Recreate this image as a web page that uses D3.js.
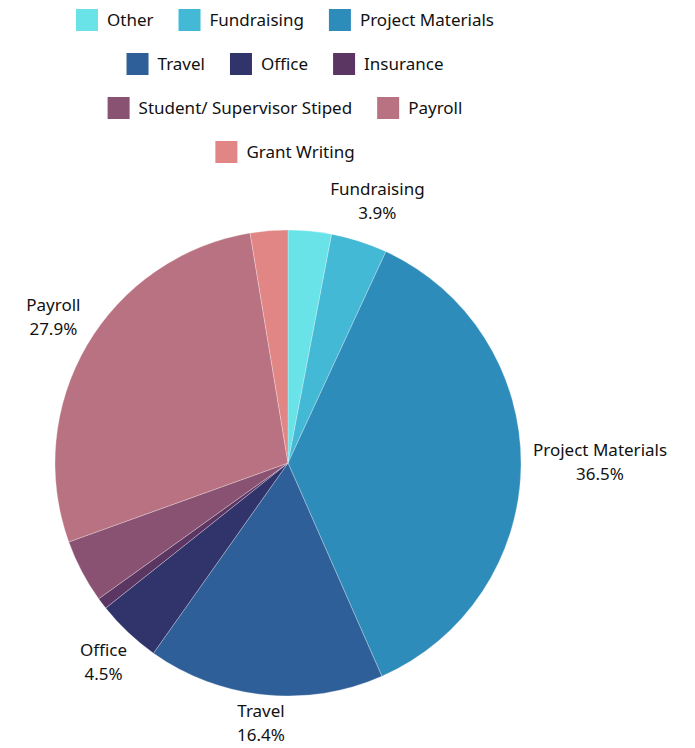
<!DOCTYPE html>
<html>
<head>
<meta charset="utf-8">
<script src="https://cdn.jsdelivr.net/npm/d3@7"></script>
<style>
  body { margin: 0; background: #fff; }
  text { font-family: "Noto Sans", sans-serif; fill: #111; }
</style>
</head>
<body>
<svg width="695" height="748"></svg>
<script>
const categories = ['Other', 'Fundraising', 'Project Materials', 'Travel', 'Office', 'Insurance',
  'Student/ Supervisor Stiped', 'Payroll', 'Grant Writing'];
const values = [3.0, 3.9, 36.5, 16.4, 4.5, 0.8, 4.4, 27.9, 2.6];
const colors = ['#69e3e8', '#44b9d6', '#2e8cba', '#2e5f98', '#30346b', '#5c3663', '#8a5272', '#b97282', '#e28585'];
const labelled = ['Fundraising', 'Project Materials', 'Travel', 'Office', 'Payroll'];

const svg = d3.select('svg');
const height = +svg.attr('height');

const data = categories.map((c, i) => ({ name: c, value: values[i] }));
const color = d3.scaleOrdinal().domain(categories).range(colors);

const cx = 288, cy = 463, radius = 233;
const fontSize = 17;

// legend, rows centred over the pie
const legend = svg.append('g');
const sw = 22, gap = 9, itemGap = 25, maxRow = 480, rowH = 44, legendTop = 20, legendMid = 285;
const items = legend.selectAll('g').data(data).enter().append('g');
items.append('rect').attr('width', sw).attr('height', sw).attr('y', -sw / 2)
  .attr('fill', d => color(d.name));
items.append('text').attr('x', sw + gap).attr('dy', '0.35em')
  .style('font-size', fontSize + 'px').text(d => d.name);
const rows = [];
let row = [], rowW = 0;
items.each(function (d) {
  const w = sw + gap + this.querySelector('text').getComputedTextLength();
  const add = row.length ? itemGap + w : w;
  if (row.length && rowW + add > maxRow) { rows.push({ row, rowW }); row = []; rowW = 0; }
  row.push({ node: this, w });
  rowW += row.length > 1 ? itemGap + w : w;
});
rows.push({ row, rowW });
rows.forEach((r, ri) => {
  let x = legendMid - r.rowW / 2;
  r.row.forEach(it => {
    d3.select(it.node).attr('transform', `translate(${x},${legendTop + ri * rowH})`);
    x += it.w + itemGap;
  });
});

// pie
const pie = d3.pie().value(d => d.value).sort(null);
const arc = d3.arc().innerRadius(0).outerRadius(radius);
const g = svg.append('g').attr('transform', `translate(${cx},${cy})`);
const arcs = pie(data);
g.selectAll('path').data(arcs).enter().append('path')
  .attr('d', arc)
  .attr('fill', d => color(d.data.name))
  .attr('stroke', 'rgba(255,255,255,0.35)')
  .attr('stroke-width', 0.8);

// outside labels
const lab = g.selectAll('g.lab').data(arcs.filter(d => labelled.includes(d.data.name)))
  .enter().append('g').attr('class', 'lab');
lab.each(function (d) {
  const a = (d.startAngle + d.endAngle) / 2;
  const r = radius + 12;
  const px = r * Math.sin(a), py = -r * Math.cos(a);
  const sel = d3.select(this);
  const t1 = sel.append('text').attr('text-anchor', 'middle').style('font-size', fontSize + 'px')
    .text(d.data.name);
  const t2 = sel.append('text').attr('text-anchor', 'middle').style('font-size', fontSize + 'px')
    .text(d3.format('.1f')(d.data.value) + '%');
  const w = Math.max(t1.node().getComputedTextLength(), t2.node().getComputedTextLength());
  const h = 50;
  const sy = Math.max(-1, Math.min(1, -Math.cos(a) * 1.4));
  const bx = px + Math.sin(a) * w / 2;
  // keep the second line inside the bottom edge
  const by = Math.min(py + sy * h / 2 - 4, height - cy - 25);
  t1.attr('x', bx).attr('y', by - 12).attr('dy', '0.35em');
  t2.attr('x', bx).attr('y', by + 12).attr('dy', '0.35em');
});
</script>
</body>
</html>
